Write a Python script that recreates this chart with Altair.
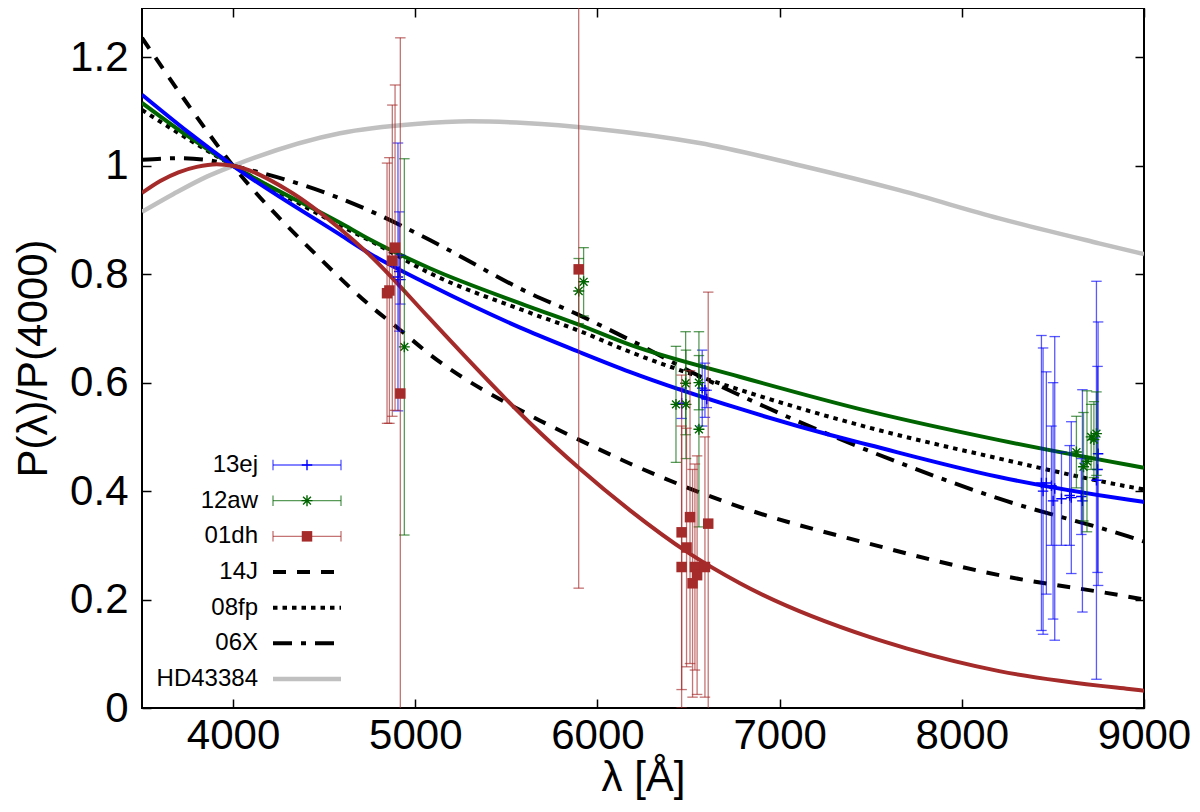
import altair as alt
import pandas as pd

# ---------------- fitted curves ----------------
fit_13ej_lam = [3500, 3750, 4000, 4587, 4751, 5080, 5628, 5897, 6177, 6780, 7273, 7492, 8205, 8918, 9000]
fit_13ej_val = [1.131, 1.063, 1.0, 0.873, 0.838, 0.780, 0.694, 0.657, 0.620, 0.552, 0.504, 0.485, 0.426, 0.384, 0.380]

fit_12aw_lam = [3500, 3750, 4000, 4587, 4751, 5080, 5628, 5897, 6177, 6780, 7492, 8205, 8918, 9000]
fit_12aw_val = [1.116, 1.055, 1.0, 0.895, 0.864, 0.811, 0.740, 0.707, 0.670, 0.611, 0.547, 0.494, 0.448, 0.443]

fit_01dh_lam = [3500, 3600, 3700, 3800, 3910, 4000, 4300, 4587, 4751, 5080, 5263, 5491, 5628, 5897,
                6177, 6500, 6782, 7492, 7696, 8205, 8918, 9000]
fit_01dh_val = [0.950, 0.972, 0.988, 0.998, 1.003, 1.0, 0.955, 0.884, 0.835, 0.718, 0.652, 0.572, 0.526, 0.443,
                0.365, 0.286, 0.230, 0.131, 0.110, 0.068, 0.035, 0.032]

fit_14J_lam = [3500, 3750, 4000, 4477, 4770, 4907, 5080, 5628, 5897, 6177, 6780, 7492, 8205, 8867, 9000]
fit_14J_val = [1.236, 1.114, 1.0, 0.829, 0.737, 0.700, 0.652, 0.540, 0.495, 0.451, 0.371, 0.303, 0.245, 0.208, 0.200]

fit_08fp_lam = [3500, 3750, 4000, 4587, 4751, 5080, 5628, 5897, 6177, 6780, 7492, 8205, 8918, 9000]
fit_08fp_val = [1.103, 1.050, 1.0, 0.890, 0.862, 0.802, 0.729, 0.696, 0.657, 0.587, 0.517, 0.460, 0.408, 0.403]

fit_06X_lam = [3500, 3700, 3850, 4000, 4587, 4751, 5080, 5628, 5897, 6177, 6615, 6780, 7273, 7492, 8205, 8918, 9000]
fit_06X_val = [1.011, 1.014, 1.011, 1.0, 0.940, 0.917, 0.863, 0.765, 0.725, 0.679, 0.603, 0.577, 0.504, 0.474,
               0.386, 0.316, 0.307]

fit_HD_lam = [3500, 3673, 3856, 4000, 4587, 5000, 5300, 5600, 6000, 6560, 7108, 7657, 8205, 8753, 9000]
fit_HD_val = [0.915, 0.948, 0.980, 1.0, 1.060, 1.077, 1.082, 1.079, 1.068, 1.042, 1.001, 0.955, 0.903, 0.857, 0.837]

# ---------------- measurements ----------------
sn13ej_lam = [4905, 4912, 4918, 6462, 6575, 6590, 6600, 8437, 8446, 8464, 8492, 8501, 8510, 8547, 8592, 8601,
              8656, 8662, 8739, 8745, 8748]
sn13ej_val = [0.795, 0.805, 0.790, 0.562, 0.590, 0.586, 0.570, 0.415, 0.400, 0.415, 0.410, 0.382, 0.405, 0.386,
              0.392, 0.388, 0.390, 0.382, 0.420, 0.440, 0.469]
sn13ej_err = [0.247, 0.110, 0.045, 0.028, 0.070, 0.050, 0.016, 0.272, 0.264, 0.205, 0.110, 0.218, 0.280, 0.086,
              0.092, 0.140, 0.070, 0.205, 0.367, 0.190, 0.243]

sn12aw_lam = [4940, 5897, 5924, 6431, 6484, 6486, 6557, 6557, 8629, 8668, 8687, 8710, 8725, 8739]
sn12aw_val = [0.666, 0.769, 0.786, 0.560, 0.599, 0.560, 0.600, 0.514, 0.472, 0.445, 0.455, 0.500, 0.495, 0.506]
sn12aw_err = [0.347, 0.060, 0.063, 0.107, 0.095, 0.100, 0.050, 0.180, 0.066, 0.100, 0.130, 0.060, 0.070, 0.077]

sn01dh_lam = [4845, 4858, 4874, 4889, 4918, 5897, 6462, 6489, 6508, 6462, 6522, 6535, 6547, 6590, 6608]
sn01dh_val = [0.765, 0.770, 0.825, 0.849, 0.580, 0.809, 0.324, 0.296, 0.352, 0.260, 0.230, 0.260, 0.245, 0.260, 0.340]
sn01dh_err = [0.240, 0.245, 0.287, 0.300, 0.656, 0.588, 0.290, 0.220, 0.270, 0.260, 0.210, 0.190, 0.220, 0.240, 0.427]

x_ticks = [4000, 5000, 6000, 7000, 8000, 9000]
y_ticks = [0, 0.2, 0.4, 0.6, 0.8, 1.0, 1.2]

legend_names = ["13ej", "12aw", "01dh", "14J", "08fp", "06X", "HD43384"]

# ---------------- styling ----------------
BLUE = "#0000ff"
GREEN = "#006400"
BROWN = "#a52a2a"
GRAY = "#c0c0c0"
FONT = "Liberation Sans"

PLUS = "M-1,0H1M0,-1V1"
STAR = "M-1,0H1M0,-1V1M-0.72,-0.72L0.72,0.72M-0.72,0.72L0.72,-0.72"
HCAP = "M-1,0H1"
VCAP = "M0,-1V1"

XS = alt.Scale(domain=[3500, 9000], nice=False, zero=False)
YS = alt.Scale(domain=[0, 1.291], nice=False, zero=False)


def xe(field="lam:Q", axis=None):
    return alt.X(field, scale=XS, axis=axis)


def ye(field="val:Q", axis=None):
    return alt.Y(field, scale=YS, axis=axis)


axis_bottom = alt.Axis(orient="bottom", values=x_ticks, format="d", title="λ [Å]", offset=-9, tickSize=9,
                       labelPadding=7, titlePadding=1, labelFlush=False)
axis_left = alt.Axis(orient="left", values=y_ticks, format="~g", title="P(λ)/P(4000)", offset=-9, tickSize=9,
                     labelPadding=14, titlePadding=14, labelFlush=False)
axis_top = alt.Axis(orient="top", values=x_ticks, labels=False, title=None, offset=-9, tickSize=9)
axis_right = alt.Axis(orient="right", values=y_ticks, labels=False, title=None, offset=-9, tickSize=9)


def curve(lams, vals, color, dash=None, width=4, xaxis=None, yaxis=None):
    df = pd.DataFrame({"lam": lams, "val": vals})
    kw = dict(color=color, strokeWidth=width, interpolate="monotone", clip=True)
    if dash is not None:
        kw["strokeDash"] = dash
    return alt.Chart(df).mark_line(**kw).encode(x=xe(axis=xaxis), y=ye(axis=yaxis))


def dataset(lams, vals, errs, color, shape, size, filled):
    df = pd.DataFrame({"lam": lams, "val": vals, "err": errs})
    base = alt.Chart(df).transform_calculate(lo="datum.val - datum.err", hi="datum.val + datum.err")
    bars = base.mark_rule(color=color, opacity=0.65, strokeWidth=1.3, clip=True).encode(
        x=xe(), y=ye("lo:Q"), y2="hi:Q")
    cap_lo = base.mark_point(shape=HCAP, size=110, color=color, opacity=0.65, strokeWidth=1.3, clip=True).encode(
        x=xe(), y=ye("lo:Q"))
    cap_hi = base.mark_point(shape=HCAP, size=110, color=color, opacity=0.65, strokeWidth=1.3, clip=True).encode(
        x=xe(), y=ye("hi:Q"))
    pts = base.mark_point(shape=shape, size=size, filled=filled, color=color, opacity=1, strokeWidth=1.4,
                          clip=True).encode(x=xe(), y=ye())
    return [bars, cap_lo, cap_hi, pts]


main_layers = [
    curve(fit_HD_lam, fit_HD_val, GRAY, width=4.5, xaxis=axis_bottom, yaxis=axis_left),
    curve(fit_14J_lam, fit_14J_val, "black", dash=[13, 11], xaxis=axis_top, yaxis=axis_right),
    curve(fit_08fp_lam, fit_08fp_val, "black", dash=[4.5, 5]),
    curve(fit_06X_lam, fit_06X_val, "black", dash=[19, 9, 5, 9]),
    curve(fit_12aw_lam, fit_12aw_val, GREEN),
    curve(fit_13ej_lam, fit_13ej_val, BLUE),
    curve(fit_01dh_lam, fit_01dh_val, BROWN),
]
main_layers += dataset(sn13ej_lam, sn13ej_val, sn13ej_err, BLUE, PLUS, 110, False)
main_layers += dataset(sn12aw_lam, sn12aw_val, sn12aw_err, GREEN, STAR, 120, False)
main_layers += dataset(sn01dh_lam, sn01dh_val, sn01dh_err, BROWN, "square", 110, True)

main = alt.layer(*main_layers).resolve_axis(x="independent", y="independent")

# ---------------- legend (inside plot, lower left) ----------------
LY = alt.Y("name:N", scale=alt.Scale(type="point", domain=legend_names, range=[457, 671], padding=0), axis=None)
LX0, LX1, LXM, LXT = 131, 199, 165, 116

leg_layers = [
    alt.Chart(pd.DataFrame({"name": legend_names})).mark_text(
        align="right", baseline="middle", font=FONT, fontSize=24, color="black").encode(
        x=alt.value(LXT), y=LY, text="name:N")
]

err_rows = [("13ej", BLUE, PLUS, 110, False), ("12aw", GREEN, STAR, 120, False), ("01dh", BROWN, "square", 110, True)]
for name, color, shape, size, filled in err_rows:
    d = alt.Chart(pd.DataFrame({"name": [name]}))
    leg_layers.append(d.mark_rule(color=color, opacity=0.65, strokeWidth=1.3).encode(
        x=alt.value(LX0), x2=alt.value(LX1), y=LY))
    for xx in (LX0, LX1):
        leg_layers.append(d.mark_point(shape=VCAP, size=110, color=color, opacity=0.65, strokeWidth=1.3).encode(
            x=alt.value(xx), y=LY))
    leg_layers.append(d.mark_point(shape=shape, size=size, filled=filled, color=color, opacity=1,
                                   strokeWidth=1.4).encode(x=alt.value(LXM), y=LY))

line_rows = [("14J", "black", [13, 11], 4), ("08fp", "black", [4.5, 5], 4), ("06X", "black", [19, 9, 5, 9], 4),
             ("HD43384", GRAY, None, 4.5)]
for name, color, dash, width in line_rows:
    kw = dict(color=color, strokeWidth=width)
    if dash is not None:
        kw["strokeDash"] = dash
    leg_layers.append(alt.Chart(pd.DataFrame({"name": [name]})).mark_rule(**kw).encode(
        x=alt.value(LX0), x2=alt.value(LX1), y=LY))

legend = alt.layer(*leg_layers)

chart = alt.layer(main, legend).resolve_scale(y="independent").properties(
    width=1002, height=700,
    autosize=alt.AutoSizeParams(type="none"),
    padding={"left": 134, "top": 0, "right": 48, "bottom": 94},
    background="white",
).configure_view(stroke="black", strokeWidth=2).configure_axis(
    grid=False, domain=False, tickColor="black", tickWidth=1.5, labelColor="black", titleColor="black",
    labelFont=FONT, titleFont=FONT, labelFontSize=42, titleFontSize=42, titleFontWeight="normal",
)

chart.save("out.html", embed_options={"renderer": "svg", "actions": False})
